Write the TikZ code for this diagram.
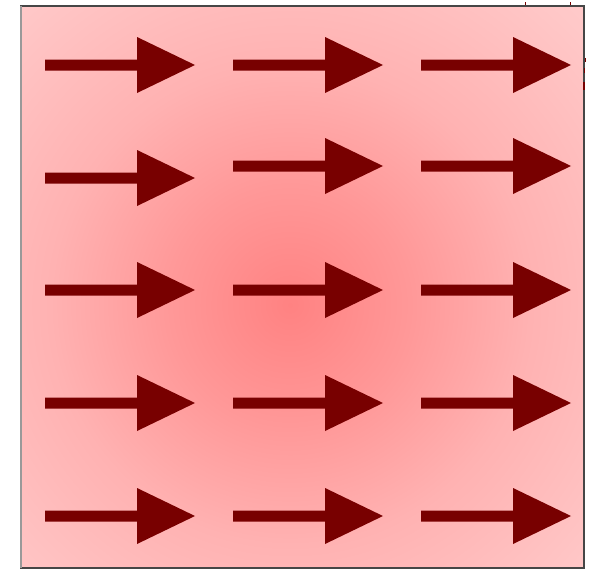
\documentclass[tikz,border=0pt]{standalone}
\usetikzlibrary{calc}

% colours of the field and of the arrows
\definecolor{glowC}{RGB}{255,130,130}
\definecolor{glowA}{RGB}{255,152,152}
\definecolor{glowB}{RGB}{255,178,178}
\definecolor{glowD}{RGB}{255,200,200}
\definecolor{glowE}{RGB}{255,212,212}
\definecolor{glowF}{RGB}{255,222,222}
\definecolor{arrowred}{RGB}{120,0,0}
\definecolor{frameline}{RGB}{70,70,70}

% radial glow: 50bp maps to the radius of the shaded circle
\pgfdeclareradialshading{fieldglow}{\pgfpoint{0bp}{0bp}}{%
  color(0bp)=(glowC);
  color(6bp)=(glowA);
  color(12bp)=(glowB);
  color(20bp)=(glowD);
  color(28bp)=(glowE);
  color(50bp)=(glowF)}

\tikzset{
  fieldarrow/.style={fill=arrowred, draw=none},
  frame/.style={draw=frameline, line width=1.4pt},
  speck/.style={fill=arrowred, draw=none},
  pics/bigarrow/.style={code={
    \fill[fieldarrow] (0,-5.5) -- (92,-5.5) -- (92,-28) -- (150,0)
      -- (92,28) -- (92,5.5) -- (0,5.5) -- cycle;
  }}
}

\begin{document}
\begin{tikzpicture}[x=1pt, y=-1pt]
  \useasboundingbox (0,0) rectangle (598,570);
  \fill[white] (0,0) rectangle (598,570);

  % shaded field
  \coordinate (boxNW) at (21,6);
  \coordinate (boxSE) at (584,568);
  \coordinate (glowcentre) at (290,305);
  \fill[glowF] (boxNW) rectangle (boxSE);
  \begin{scope}
    \clip (boxNW) rectangle (boxSE);
    \shade[shading=fieldglow] (glowcentre) circle (500);
  \end{scope}

  % frame
  \draw[frame] (boxNW) rectangle (boxSE);
  \draw[draw=gray!80, line width=1.4pt] (boxNW) -- (boxNW |- boxSE);

  % arrow grid: three columns, five rows
  \foreach \x/\y in {45/65, 233/65, 421/65,
                     45/178, 233/166, 421/166,
                     45/290, 233/290, 421/290,
                     45/403, 233/403, 421/403,
                     45/516, 233/516, 421/516}
    \pic at (\x,\y) {bigarrow};

  % small specks along the top and right edges
  \fill[speck] (524.5,2) rectangle (526,5);
  \fill[speck] (569.5,2) rectangle (571,5);
  \fill[speck] (584.5,58) rectangle (586,62);
  \fill[speck] (583.5,68) rectangle (585,73);
  \fill[speck] (583,82) rectangle (585,90);
\end{tikzpicture}
\end{document}
